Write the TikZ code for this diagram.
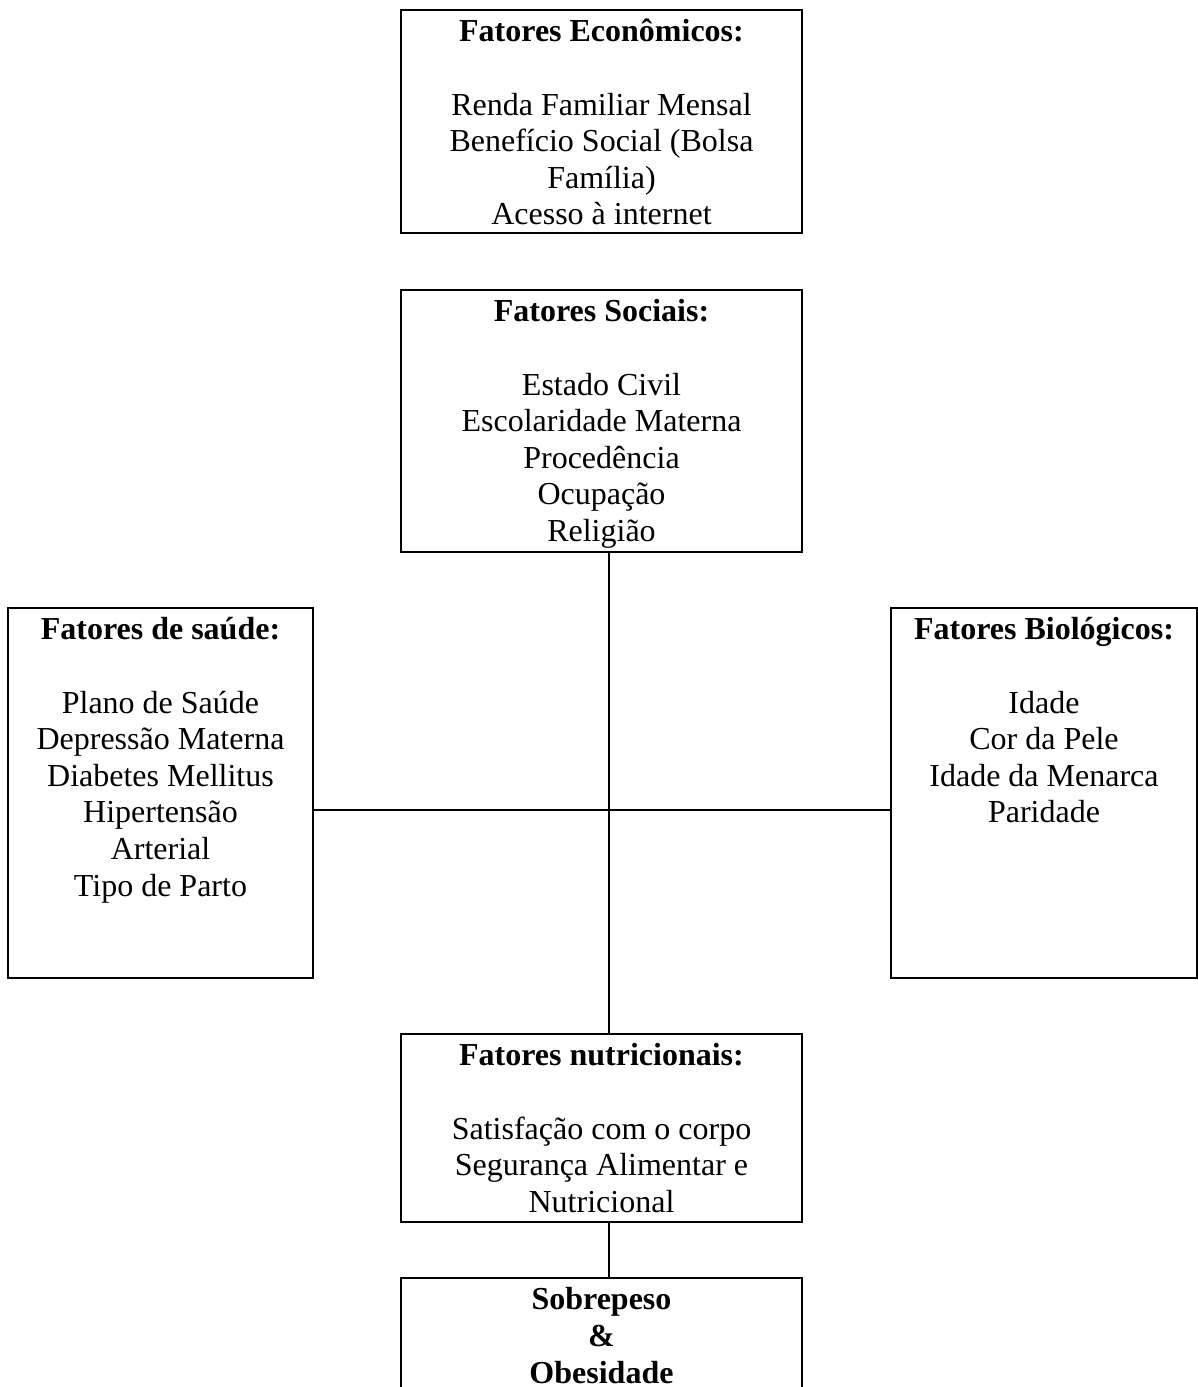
\documentclass[tikz,border=0pt]{standalone}
\usepackage{fontspec}
\setmainfont{Liberation Serif}
\begin{document}
\begin{tikzpicture}[x=1pt,y=-1pt,
  box/.style={draw, line width=2.7pt, rectangle, inner sep=0pt},
  txt/.style={anchor=north, align=center, inner sep=0pt,
    font=\fontsize{32}{36.6}\selectfont},
  link/.style={line width=2.7pt}]
\useasboundingbox (0,0) rectangle (1198,1387);
\clip (0,0) rectangle (1198,1387);
% boxes
\node[box, minimum width=401pt, minimum height=223pt] (eco) at (601.5,121.5) {};
\node[box, minimum width=401pt, minimum height=262pt] (soc) at (601.5,421) {};
\node[box, minimum width=305pt, minimum height=370pt] (sau) at (160.5,793) {};
\node[box, minimum width=306pt, minimum height=370pt] (bio) at (1044,793) {};
\node[box, minimum width=401pt, minimum height=188pt] (nut) at (601.5,1128) {};
\node[box, minimum width=401pt, minimum height=222pt] (obe) at (601.5,1389) {};
% texts
\newcommand{\tstrut}{\rule{0pt}{33pt}}
\node[txt] (ecot) at (eco.north) {\tstrut\textbf{Fatores Econômicos:}\\[36.6pt]
  Renda Familiar Mensal\\Benefício Social (Bolsa\\Família)\\Acesso à internet};
\node[txt] (soct) at (soc.north) {\tstrut\textbf{Fatores Sociais:}\\[36.6pt]
  Estado Civil\\Escolaridade Materna\\Procedência\\Ocupação\\Religião};
\node[txt] (saut) at (sau.north) {\tstrut\textbf{Fatores de saúde:}\\[36.6pt]
  Plano de Saúde\\Depressão Materna\\Diabetes Mellitus\\Hipertensão\\Arterial\\Tipo de Parto};
\node[txt] (biot) at (bio.north) {\tstrut\textbf{Fatores Biológicos:}\\[36.6pt]
  Idade\\Cor da Pele\\Idade da Menarca\\Paridade};
\node[txt] (nutt) at (nut.north) {\tstrut\textbf{Fatores nutricionais:}\\[36.6pt]
  Satisfação com o corpo\\Segurança Alimentar e\\Nutricional};
\node[txt] (obet) at (obe.north) {\tstrut\textbf{Sobrepeso}\\\textbf{\&}\\\textbf{Obesidade}};
% connectors
\coordinate (vx) at (609,0);
\coordinate (hy) at (0,810);
\draw[link] (soc.south -| vx) -- (nut.north -| vx);
\draw[link] (sau.east |- hy) -- (bio.west |- hy);
\draw[link] (nut.south -| vx) -- (obe.north -| vx);
\end{tikzpicture}
\end{document}
